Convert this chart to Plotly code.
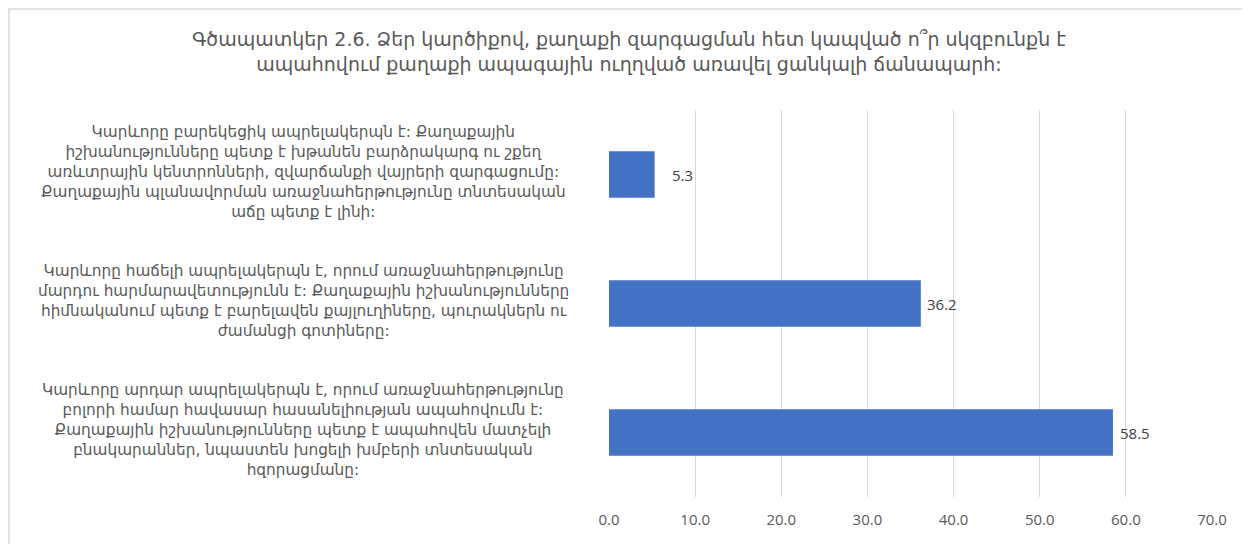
import plotly.graph_objects as go

categories = [
    "Կարևորը բարեկեցիկ ապրելակերպն է: Քաղաքային<br>իշխանությունները պետք է խթանեն բարձրակարգ ու շքեղ<br>առևտրային կենտրոնների, զվարճանքի վայրերի զարգացումը:<br>Քաղաքային պլանավորման առաջնահերթությունը տնտեսական<br>աճը պետք է լինի:",
    "Կարևորը հաճելի ապրելակերպն է, որում առաջնահերթությունը<br>մարդու հարմարավետությունն է: Քաղաքային իշխանությունները<br>հիմնականում պետք է բարելավեն քայլուղիները, պուրակներն ու<br>ժամանցի գոտիները:",
    "Կարևորը արդար ապրելակերպն է, որում առաջնահերթությունը<br>բոլորի համար հավասար հասանելիության ապահովումն է:<br>Քաղաքային իշխանությունները պետք է ապահովեն մատչելի<br>բնակարաններ, նպաստեն խոցելի խմբերի տնտեսական<br>հզորացմանը:",
]
values = [5.3, 36.2, 58.5]
x_ticks = [0, 10, 20, 30, 40, 50, 60, 70]
title_text = "Գծապատկեր 2.6. Ձեր կարծիքով, քաղաքի զարգացման հետ կապված ո՞ր սկզբունքն է<br>ապահովում քաղաքի ապագային ուղղված առավել ցանկալի ճանապարհ:"

FONT = "DejaVu Sans, Noto Sans Armenian, sans-serif"
NUMFONT = "Open Sans, sans-serif"
OFF = 8  # browser body margin
W, H = 1250, 544
L, R, T, B = 609 - OFF, 1250 - (1212 - OFF), 110 - OFF, 544 - (497 - OFF)
label_shift = [15, 4, 5]

fig = go.Figure(go.Bar(
    x=values, y=list(range(len(categories))), orientation="h",
    marker=dict(color="#4472C4", line=dict(width=0)),
    width=0.36, hoverinfo="skip",
))

for i, v in enumerate(values):
    fig.add_annotation(
        text=f"{v:.1f}", x=v, xref="x", y=i, yref="y", showarrow=False,
        xanchor="left", yanchor="middle", xshift=label_shift[i],
        font=dict(size=15, color="#404040", family=NUMFONT),
    )

px_w = W - L - R
px_h = H - T - B
for i, c in enumerate(categories):
    fig.add_annotation(
        text=c, x=(303 - OFF - L) / px_w, xref="paper", y=i, yref="y",
        showarrow=False, align="center", xanchor="center", yanchor="middle", yshift=3,
        font=dict(size=15.3, color="#595959", family=FONT),
    )

fig.add_shape(type="rect", xref="paper", yref="paper",
              x0=(1 - L) / px_w, x1=(1260 - L) / px_w,
              y0=1 - (560 - T) / px_h, y1=1 + (T - 1) / px_h,
              line=dict(color="#D9D9D9", width=1.5), fillcolor="rgba(0,0,0,0)", layer="below")

fig.update_layout(
    width=W, height=H,
    margin=dict(l=L, r=R, t=T, b=B),
    paper_bgcolor="white", plot_bgcolor="white",
    title=dict(text=title_text, x=(629 - OFF) / W, xanchor="center", y=1 - (46 - OFF) / H, yanchor="middle",
               font=dict(size=19, color="#595959", family=FONT)),
    xaxis=dict(range=[0, 70], tickvals=x_ticks, ticktext=[f"{t:.1f}" for t in x_ticks],
               showgrid=True, gridcolor="#D9D9D9", gridwidth=1, zeroline=False, showline=False,
               ticks="", tickfont=dict(size=15, color="#595959", family=NUMFONT),
               ticklabelstandoff=12, fixedrange=True),
    yaxis=dict(range=[2.5, -0.5], showticklabels=False, showgrid=False, zeroline=False,
               showline=False, ticks=""),
    showlegend=False,
)

fig.write_html("out.html")
